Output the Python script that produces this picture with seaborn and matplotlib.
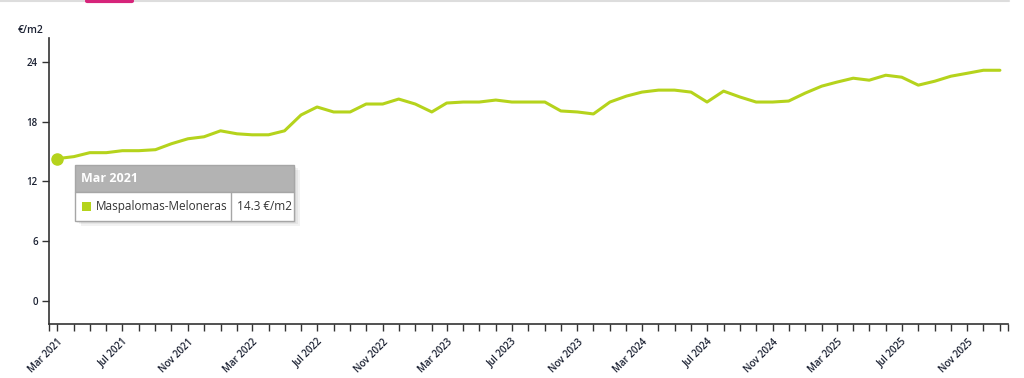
import numpy as np
import pandas as pd
import matplotlib.pyplot as plt
import matplotlib.dates as mdates
from matplotlib.patches import Rectangle
from matplotlib.lines import Line2D
import seaborn as sns

# Datos: precio medio del alquiler (€/m2), mensual
meses = pd.date_range('2021-03-01', '2026-01-01', freq='MS')
precio = [14.3, 14.5, 14.9, 14.9, 15.1, 15.1, 15.2, 15.8, 16.3, 16.5,
          17.1, 16.8, 16.7, 16.7, 17.1, 18.7, 19.5, 19.0, 19.0, 19.8,
          19.8, 20.3, 19.8, 19.0, 19.9, 20.0, 20.0, 20.2, 20.0, 20.0,
          20.0, 19.1, 19.0, 18.8, 20.0, 20.6, 21.0, 21.2, 21.2, 21.0,
          20.0, 21.1, 20.5, 20.0, 20.0, 20.1, 20.9, 21.6, 22.0, 22.4,
          22.2, 22.7, 22.5, 21.7, 22.1, 22.6, 22.9, 23.2, 23.2]
zona = 'Maspalomas-Meloneras'
y_ticks = [0, 6, 12, 18, 24]

df = pd.DataFrame({'mes': meses, 'precio': precio})

verde = '#b5d31c'
tinta = '#1c2233'

sns.set_style('white')
plt.rcParams['font.family'] = ['Open Sans', 'DejaVu Sans']

fig = plt.figure(figsize=(10.24, 3.78), dpi=100)
ax = fig.add_axes([0.0476, 0.143, 0.9367, 0.7565])

sns.lineplot(data=df, x='mes', y='precio', color=verde, linewidth=2.2, ax=ax)
ax.plot(df['mes'].iloc[:1], df['precio'].iloc[:1], 'o', color=verde, ms=8, zorder=5)

# Ejes
x0 = meses[0] - pd.Timedelta(days=16)
x1 = meses[-1] + pd.Timedelta(days=15)
ax.set_xlim(x0, x1)
ax.set_ylim(-2.35, 26.45)
ax.set_yticks(y_ticks)
ax.set_yticklabels([str(v) for v in y_ticks])

ticks = [mdates.date2num(x0)] + list(mdates.date2num(meses)) + [mdates.date2num(x1)]
etiquetas = [''] + [m.strftime('%b %Y') if i % 4 == 0 else '' for i, m in enumerate(meses)] + ['']
ax.set_xticks(ticks)
ax.set_xticklabels(etiquetas, rotation=45, ha='right', rotation_mode='anchor')

for s in ['top', 'right']:
    ax.spines[s].set_visible(False)
for s in ['left', 'bottom']:
    ax.spines[s].set_color('#333333')
    ax.spines[s].set_linewidth(1.2)
ax.tick_params(axis='both', direction='out', length=5, width=1, color='#333333',
               labelsize=7, labelcolor=tinta, pad=3, bottom=True, left=True)
ax.tick_params(axis='x', pad=4)
for t in ax.get_xticklabels() + ax.get_yticklabels():
    t.set_fontweight('semibold')
ax.set_xlabel('')
ax.set_ylabel('')
ax.grid(False)

fig.text(0.017, 0.918, '€/m2', fontsize=7.5, fontweight='semibold', color=tinta, ha='left', va='center')

# Barra superior decorativa
fig.add_artist(Line2D([0.0, 0.985], [0.997, 0.997], color='#dddddd', lw=1.5))
fig.add_artist(Line2D([0.085, 0.129], [0.997, 0.997], color='#d6247a', lw=3))

# Tooltip
L, R = 75 / 1024, 294 / 1024
T, M, B = 1 - 165 / 378, 1 - 192 / 378, 1 - 221 / 378
D = 231 / 1024
for k, a in enumerate([0.05, 0.05, 0.05]):
    off = 0.002 * (k + 1)
    fig.add_artist(Rectangle((L + off, B - 2 * off), R - L, T - B, transform=fig.transFigure,
                             facecolor='#000000', alpha=a, edgecolor='none', zorder=9))
fig.add_artist(Rectangle((L, M), R - L, T - M, transform=fig.transFigure,
                         facecolor='#b3b3b3', edgecolor='#a6a6a6', lw=1, zorder=10))
fig.add_artist(Rectangle((L, B), R - L, M - B, transform=fig.transFigure,
                         facecolor='white', edgecolor='#a6a6a6', lw=1, zorder=10))
fig.add_artist(Line2D([D, D], [B, M], transform=fig.transFigure, color='#a6a6a6', lw=1, zorder=11))
fig.add_artist(Rectangle((82 / 1024, 1 - 211 / 378), 9 / 1024, 9 / 378, transform=fig.transFigure,
                         facecolor=verde, edgecolor='none', zorder=11))
fig.text(81 / 1024, (T + M) / 2, meses[0].strftime('%b %Y'), fontsize=9, fontweight='bold',
         color='white', ha='left', va='center', zorder=12)
fig.text(96 / 1024, (M + B) / 2, zona, fontsize=8.5, color='#333333',
         ha='left', va='center', zorder=12)
fig.text(237 / 1024, (M + B) / 2, f'{precio[0]} €/m2', fontsize=8.5, color='#333333',
         ha='left', va='center', zorder=12)

fig.savefig('out.png', dpi=100)
